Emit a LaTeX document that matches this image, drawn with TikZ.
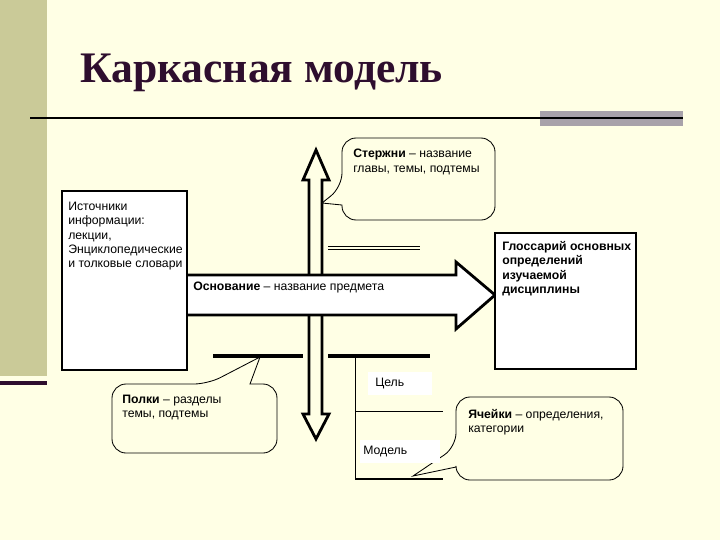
\documentclass[tikz,border=0pt]{standalone}
\usepackage{fontspec}
\setmainfont{Liberation Serif}
\setsansfont{Liberation Sans}
\definecolor{slidebg}{HTML}{FFFFE5}
\definecolor{stripe}{HTML}{CACA98}
\definecolor{titlecol}{HTML}{2E0E2E}
\definecolor{bargray}{HTML}{A8A2AA}

\begin{document}
\begin{tikzpicture}[x=0.025cm,y=-0.025cm,
    every node/.style={font=\sffamily\fontsize{8.7}{10.1}\selectfont,inner sep=0pt,anchor=north west,align=left},
    frame/.style={draw,line width=2pt,fill=white},
    block/.style={draw,line width=2pt,line join=miter},
    bubble/.style={draw,line width=0.6pt,fill=slidebg},
    shelf/.style={line width=3pt}]
    % slide
    \fill[slidebg] (0,0) rectangle (720,540);
    \useasboundingbox (0,0) rectangle (720,540);
    \fill[stripe] (0,0) rectangle (47,376);
    \fill[titlecol] (0,381) rectangle (47,385);
    \fill[bargray] (540,111) rectangle (683,126);
    \draw[line width=1.5pt] (30,118) -- (683,118);
    \node[anchor=base west,font=\rmfamily\bfseries\fontsize{31}{31}\selectfont,text=titlecol] (title) at (80,82) {Каркасная модель};
    % rod and base
    \draw[block] (309,180) -- (303,180) -- (316,150) -- (329,180) -- (322,180) -- (322,414)
        -- (329,414) -- (316,439) -- (303,414) -- (309,414) -- cycle;
    \draw[block,fill=white] (186,275) -- (456,275) -- (456,262) -- (495,295) -- (456,329)
        -- (456,315) -- (186,315) -- cycle;
    \draw[frame] (62,191) rectangle (187,370);
    \draw[frame] (495,233) rectangle (636,369);
    \foreach \yy in {246,249} {\draw[line width=0.6pt] (328,\yy) -- (420,\yy);}
    % callouts
    \draw[bubble] (342,205) [rounded corners=10] -- (342,220) -- (495,220) -- (495,138) -- (342,138)
        -- (342,187) [sharp corners] -- (322,203) -- cycle;
    \draw[bubble] (250,384) [rounded corners=10] -- (277,384) -- (277,453) -- (112,453) -- (112,384)
        -- (208,384) [sharp corners] -- (260,357) -- cycle;
    \draw[bubble] (456,467) [rounded corners=10] -- (456,480) -- (623,480) -- (623,397) -- (456,397)
        -- (456,447) [sharp corners] -- (413,476) -- cycle;
    % shelves and cells
    \draw[shelf] (213,356) -- (303,356);
    \draw[shelf] (328,356) -- (430,356);
    \draw[line width=0.7pt] (355,356) -- (355,479);
    \draw[line width=0.7pt] (355,411) -- (443,411);
    \draw[line width=2pt] (355,479) -- (443,479);
    \fill[white] (368,372) rectangle (432,395);
    \fill[white] (360,440) rectangle (440,463);
    % texts
    \node (sources) at (68,202) {Источники\\информации:\\лекции,\\Энциклопедические\\и толковые словари};
    \node (rodtext) at (353,149) {\textbf{Стержни} – название\\главы, темы, подтемы};
    \node[font=\sffamily\fontsize{8.7}{10.3}\selectfont\bfseries] (glossary) at (502,241) {Глоссарий основных\\определений\\изучаемой\\дисциплины};
    \node (basetext) at (193,282) {\textbf{Основание} – название предмета};
    \node (shelftext) at (122,395) {\textbf{Полки} – разделы\\темы, подтемы};
    \node (goal) at (375,378) {Цель};
    \node (model) at (363,446) {Модель};
    \node (celltext) at (468,409) {\textbf{Ячейки} – определения,\\категории};
\end{tikzpicture}
\end{document}
